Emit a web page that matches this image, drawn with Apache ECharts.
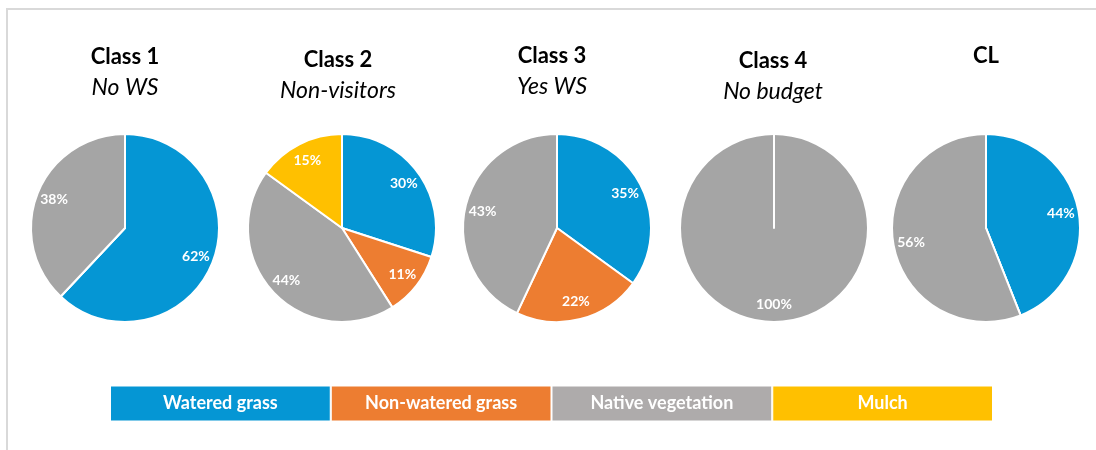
<!DOCTYPE html>
<html>
<head>
<meta charset="utf-8">
<script src="https://cdn.jsdelivr.net/npm/echarts@6/dist/echarts.min.js"></script>
<style>
	body { margin: 0; background: #fff; }
	#wrap { position: relative; width: 1096px; height: 450px; }
	#frame { position: absolute; left: 6px; top: 8px; right: 0; bottom: 0; border-top: 2px solid #d9d9d9; border-left: 2px solid #d9d9d9; }
	#chart { position: absolute; left: 0; top: 0; width: 1096px; height: 450px; }
</style>
</head>
<body>
<div id="wrap">
	<div id="frame"></div>
	<div id="chart"></div>
</div>
<script>
// categories / legend
var categories = ['Watered grass', 'Non-watered grass', 'Native vegetation', 'Mulch'];
var pieColors = ['#0596d4', '#ed7d31', '#a5a5a5', '#ffc000'];
var legendColors = ['#0596d4', '#ed7d31', '#aeabab', '#ffc000'];
var legendUnits = [1, 1, 1, 1];

// one pie per class
var classNames = ['Class 1', 'Class 2', 'Class 3', 'Class 4', 'CL'];
var subNames = ['No WS', 'Non-visitors', 'Yes WS', 'No budget', ''];

// percentages
var watered = [62, 30, 35, 0, 44];
var nonWatered = [0, 11, 22, 0, 0];
var nativeVeg = [38, 44, 43, 100, 56];
var mulch = [0, 15, 0, 0, 0];

var centersX = [125, 342, 557, 774, 986];
var titleX = [125, 338, 552, 773, 986];
var titleTop = [46, 49, 45, 50, 45];
var R = 94;
var FONT = 'Lato, "Open Sans", sans-serif';

var titles = [];
var series = [];

for(var i = 0; i < classNames.length; i++) {
	titles.push({
		text: classNames[i],
		subtext: subNames[i],
		left: titleX[i],
		top: titleTop[i],
		textAlign: 'center',
		padding: 0,
		itemGap: 8,
		textStyle: {
			fontFamily: FONT,
			fontSize: 22,
			fontWeight: 'bold',
			color: '#000'
		},
		subtextStyle: {
			fontFamily: FONT,
			fontSize: 23,
			fontStyle: 'italic',
			color: '#000'
		}
	});

	var vals = [watered[i], nonWatered[i], nativeVeg[i], mulch[i]];
	var data = [];
	for(var k = 0; k < categories.length; k++) {
		data.push({
			name: categories[k],
			value: vals[k],
			itemStyle: { color: pieColors[k] }
		});
	}

	// the pie itself
	series.push({
		type: 'pie',
		center: [centersX[i], 228],
		radius: [0, R],
		startAngle: 90,
		clockwise: true,
		silent: true,
		animation: false,
		itemStyle: {
			borderColor: '#fff',
			borderWidth: 2
		},
		label: { show: false },
		labelLine: { show: false },
		data: data
	});

	// label ring so the % labels sit near the rim like in the original
	series.push({
		type: 'pie',
		center: [centersX[i], 228],
		radius: [R * 0.56, R],
		startAngle: 90,
		clockwise: true,
		silent: true,
		animation: false,
		z: 5,
		itemStyle: {
			color: 'rgba(0,0,0,0)',
			borderWidth: 0
		},
		label: {
			show: true,
			position: 'inside',
			formatter: function(p) {
				return p.value > 0 ? p.value + '%' : '';
			},
			color: '#fff',
			fontFamily: FONT,
			fontSize: 14,
			fontWeight: 'bold'
		},
		labelLine: { show: false },
		data: data.map(function(d) {
			return { name: d.name, value: d.value };
		})
	});
}

// legend strip drawn as one stacked bar
for(var k = 0; k < categories.length; k++) {
	series.push({
		type: 'bar',
		name: categories[k],
		stack: 'legend',
		barWidth: 36,
		silent: true,
		animation: false,
		itemStyle: {
			color: legendColors[k],
			borderColor: '#fff',
			borderWidth: 1
		},
		label: {
			show: true,
			position: 'inside',
			formatter: '{a}',
			color: '#fff',
			fontFamily: FONT,
			fontSize: 18,
			fontWeight: 'bold'
		},
		data: [legendUnits[k]]
	});
}

var myChart = echarts.init(document.getElementById('chart'));
myChart.setOption({
	backgroundColor: 'transparent',
	title: titles,
	grid: {
		left: 110,
		right: 103,
		top: 385,
		height: 37
	},
	xAxis: {
		type: 'value',
		min: 0,
		max: 4,
		show: false
	},
	yAxis: {
		type: 'category',
		data: ['legend'],
		show: false
	},
	series: series
});
</script>
</body>
</html>
